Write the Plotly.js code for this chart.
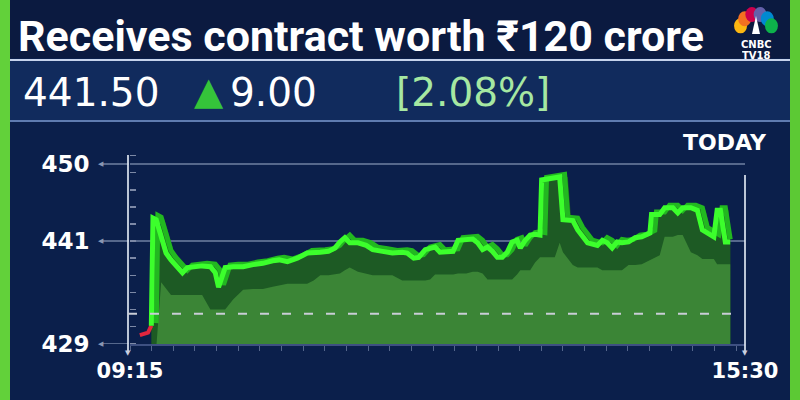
<!DOCTYPE html>
<html>
<head>
<meta charset="utf-8">
<script src="https://cdn.plot.ly/plotly-3.0.1.min.js"></script>
<style>html,body{margin:0;padding:0;background:#0b1f4b;}#chart{width:800px;height:400px;}</style>
</head>
<body>
<div id="chart"></div>
<script>
// ---- data ----
const headline = 'Receives contract worth ₹120 crore';
const lastPrice = '441.50';
const changeText = '9.00';
const pctText = '[2.08%]';
const prevClose = 432.5;

const redTimes  = ['09:21','09:26','09:28'];
const redPrices = [430.0, 430.3, 431.1];

const times = ['09:28','09:29','09:31','09:34','09:37','09:40','09:44','09:47','09:50','09:53',
  '09:59','10:04','10:07','10:09','10:11','10:13','10:18','10:24','10:30','10:36',
  '10:42','10:46','10:51','10:57','11:03','11:07','11:11','11:16','11:20','11:23',
  '11:26','11:29','11:34','11:39','11:43','11:49','11:55','12:01','12:04','12:08',
  '12:11','12:15','12:18','12:21','12:24','12:28','12:32','12:35','12:40','12:44',
  '12:47','12:50','12:53','12:56','12:59','13:02','13:05','13:08','13:11','13:13',
  '13:16','13:19','13:22','13:25','13:26','13:34','13:37','13:39','13:45','13:48',
  '13:54','14:00','14:03','14:06','14:09','14:12','14:15','14:19','14:23','14:27',
  '14:32','14:33','14:38','14:41','14:46','14:49','14:52','14:57','15:01','15:04',
  '15:07','15:11','15:13','15:15','15:18','15:21'];
const prices = [431.1,443.7,443.5,441.4,439.6,438.8,438.0,437.3,437.9,438.0,
  438.1,438.0,437.3,435.6,436.8,437.9,438.0,438.0,438.25,438.4,
  438.7,438.8,438.6,439.0,439.6,439.6,439.7,439.8,440.2,440.9,
  441.4,440.8,440.8,440.5,440.0,439.8,439.6,439.7,439.6,439.0,
  439.1,440.0,440.2,440.3,439.7,439.8,439.8,441.1,441.25,441.25,
  440.8,440.0,440.3,439.8,439.1,439.1,439.7,440.9,441.1,440.2,
  441.1,441.7,441.8,441.7,448.15,448.4,448.5,443.5,443.4,442.3,
  440.8,440.5,441.1,440.8,440.2,440.9,440.8,440.9,441.4,441.5,
  441.95,444.1,444.1,444.9,444.9,444.3,444.9,444.9,444.6,442.3,
  441.95,441.5,444.6,444.6,440.9,440.9];

const yTicks = [450, 441, 429];
const xTicks = ['09:15', '15:30'];

// ---- helpers ----
const MIN = 60000;
function ms(t){ const p = t.split(':').map(Number); return Date.UTC(2024,0,1,p[0],p[1]); }
const X = times.map(ms);
const RX = redTimes.map(ms);
const tEnd = X[X.length-1];

// layout geometry (pixels)
const ML = 130, MR = 55, MT = 150, MB = 56;
const PW = 800 - ML - MR, PH = 400 - MT - MB;
const px = x => (x - ML) / PW;
const py = y => (400 - MB - y) / PH;

// decorative 3D effect derived from the same series
const backX = X.map(x => Math.min(x + 5*MIN, tEnd));
const edgeX = X.map(x => Math.min(x + 3*MIN, tEnd));
const edgeY = prices.map(v => v + 0.3);
const shadowY = prices.map((v,i) => Math.min.apply(null, prices.slice(Math.max(0,i-2), i+3)) - 2.6);

const traces = [
  {x: backX, y: prices, mode:'lines', fill:'tozeroy', fillcolor:'#1d5a24', line:{width:0, color:'#1d5a24'}, hoverinfo:'skip'},
  {x: X, y: prices, mode:'lines', fill:'tozeroy', fillcolor:'#1d5a24', line:{width:0, color:'#1d5a24'}, hoverinfo:'skip'},
  {x: X, y: shadowY, mode:'lines', fill:'tozeroy', fillcolor:'#3b8536', line:{width:0, color:'#3b8536'}, hoverinfo:'skip'},
  {x: edgeX, y: edgeY, mode:'lines', line:{width:5, color:'#22b820'}, hoverinfo:'skip'},
  {x: RX, y: redPrices, mode:'lines', line:{width:4, color:'#e3263e'}},
  {x: X, y: prices, mode:'lines', line:{width:5, color:'#3cff2c'}}
];

const white = '#ffffff';
const shapes = [
  // background bands
  {type:'rect', xref:'paper', yref:'paper', x0:px(0), x1:px(800), y0:py(58), y1:py(0), fillcolor:'#0b1a40', line:{width:0}, layer:'below'},
  {type:'rect', xref:'paper', yref:'paper', x0:px(10), x1:px(790), y0:py(121), y1:py(60), fillcolor:'#112b5d', line:{width:0}, layer:'below'},
  {type:'line', xref:'paper', yref:'paper', x0:px(10), x1:px(790), y0:py(60), y1:py(60), line:{color:'#c6d3ec', width:2}},
  {type:'line', xref:'paper', yref:'paper', x0:px(10), x1:px(790), y0:py(121), y1:py(121), line:{color:'#5f7bb0', width:2}},
  // side green bars
  {type:'rect', xref:'paper', yref:'paper', x0:px(0), x1:px(10), y0:py(400), y1:py(0), fillcolor:'#62d13a', line:{width:0}},
  {type:'rect', xref:'paper', yref:'paper', x0:px(790), x1:px(800), y0:py(400), y1:py(0), fillcolor:'#5cc934', line:{width:0}},
  // axis verticals
  {type:'line', xref:'paper', yref:'paper', x0:px(128), x1:px(128), y0:py(352), y1:py(155), line:{color:'rgba(220,228,240,0.85)', width:2}},
  {type:'line', xref:'paper', yref:'paper', x0:px(745), x1:px(745), y0:py(352), y1:py(175), line:{color:'rgba(220,228,240,0.85)', width:2}},
  // previous close
  {type:'line', xref:'paper', yref:'y', x0:px(128), x1:px(738), y0:prevClose, y1:prevClose, line:{color:'#c9cdd6', width:2, dash:'9px,13px'}}
];

// CNBC peacock feathers
const featherColors = ['#fcb711','#f37021','#cc004c','#6460aa','#0089d0','#0db14b'];
featherColors.forEach((c,i) => {
  const a = (165 - 30*i) * Math.PI/180;
  const cx = 756 + 16*Math.cos(a), cy = 30 - 16*Math.sin(a);
  shapes.push({type:'circle', xref:'paper', yref:'paper', x0:px(cx-6.5), x1:px(cx+6.5), y0:py(cy+7.5), y1:py(cy-7.5), fillcolor:c, line:{width:0}});
});
shapes.push({type:'path', xref:'paper', yref:'paper', path:`M ${px(752)} ${py(34)} L ${px(760)} ${py(34)} L ${px(756)} ${py(16)} Z`, fillcolor:'#ffffff', line:{width:0}});

const ann = (x, y, text, size, color, family, xanchor, extra) => Object.assign({
  xref:'paper', yref:'paper', x:px(x), y:py(y), text:text, showarrow:false,
  xanchor:xanchor||'left', yanchor:'middle', font:{size:size, color:color, family:family}
}, extra||{});

const annotations = [
  ann(16, 36, '<b>' + headline + '</b>', 43, white, 'Roboto, "Noto Sans", sans-serif'),
  ann(21, 92, lastPrice, 39, white, '"DejaVu Sans", sans-serif'),
  ann(192, 91, '▲', 38, '#35c43a', 'DejaVu Sans, sans-serif'),
  ann(228, 92, changeText, 39, white, '"DejaVu Sans", sans-serif'),
  ann(394, 92, pctText, 39, '#a6e8a2', '"DejaVu Sans", sans-serif'),
  ann(725, 142, '<b>TODAY</b>', 22, white, 'DejaVu Sans, sans-serif', 'center'),
  ann(756, 45, '<b>CNBC</b>', 10, white, 'DejaVu Sans, sans-serif', 'center', {yanchor:'middle', height:11}),
  ann(756, 55, '<b>TV18</b>', 10, white, 'DejaVu Sans, sans-serif', 'center', {yanchor:'middle', height:11}),
  ann(128, 353, '▼', 7, '#c8d0e0', 'DejaVu Sans', 'center'),
  ann(745, 353, '▼', 7, '#c8d0e0', 'DejaVu Sans', 'center')
];
yTicks.forEach(v => annotations.push({xref:'paper', yref:'y', x:px(101), y:v, text:'◀', showarrow:false,
  xanchor:'center', yanchor:'middle', font:{size:7, color:'#8a96b2', family:'DejaVu Sans'}}));

const layout = {
  width:800, height:400,
  margin:{l:ML, r:MR, t:MT, b:MB, pad:0},
  paper_bgcolor:'#0b1f4b', plot_bgcolor:'rgba(0,0,0,0)',
  showlegend:false,
  xaxis:{type:'date', range:[ms('09:15'), ms('15:30')], tickmode:'array',
    tickvals:xTicks.map(ms), ticktext:xTicks, ticks:'outside', ticklen:7, tickcolor:'rgba(0,0,0,0)',
    showgrid:false, zeroline:false, showline:true, linecolor:'#3e5081', linewidth:2,
    tickfont:{family:'DejaVu Sans, sans-serif', size:21, color:white, weight:'bold'},
    minor:{ticks:'outside', ticklen:5, dtick:13.2*MIN, tick0:ms('09:15'), tickcolor:'#55668c', showgrid:false},
    automargin:false, fixedrange:true},
  yaxis:{range:[428.96, 451.66], tickmode:'array', tickvals:yTicks, ticktext:yTicks.map(String),
    ticks:'outside', ticklen:27, tickcolor:'#56688c', tickwidth:1.5, ticklabelstandoff:8,
    showgrid:true, gridcolor:'#56688c', gridwidth:1.5, zeroline:false, showline:false,
    tickfont:{family:'DejaVu Sans, sans-serif', size:23, color:white, weight:'bold'},
    minor:{ticks:'inside', ticklen:6, dtick:2, tick0:429, tickcolor:'#7d89a6', showgrid:false},
    automargin:false, fixedrange:true},
  shapes:shapes, annotations:annotations
};

Plotly.newPlot('chart', traces, layout, {displayModeBar:false, staticPlot:true});
</script>
</body>
</html>
